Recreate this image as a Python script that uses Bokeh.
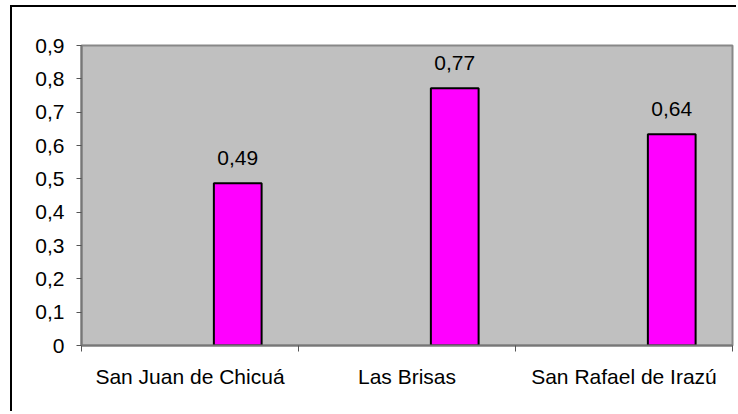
from bokeh.plotting import figure
from bokeh.models import Range1d, FixedTicker, CustomJSTickFormatter, ColumnDataSource
from bokeh.transform import dodge
from bokeh.core.properties import value
from bokeh.embed import file_html
from bokeh.resources import INLINE

categories = ["San Juan de Chicuá", "Las Brisas", "San Rafael de Irazú"]
values = [0.487, 0.772, 0.634]
value_labels = ["0,49", "0,77", "0,64"]
y_ticks = [0, 0.1, 0.2, 0.3, 0.4, 0.5, 0.6, 0.7, 0.8, 0.9]

FONT = "Liberation Sans"
FS = "21px"

xc = [i + 0.5 for i in range(len(categories))]
src = ColumnDataSource(dict(x=xc, v=values, lab=value_labels))

p = figure(width=726, height=406, output_backend="svg", toolbar_location=None,
           x_range=Range1d(0, len(categories)), y_range=Range1d(0, 0.9),
           min_border_left=69, min_border_right=6, min_border_top=38, min_border_bottom=68)
p.styles = {"margin-left": "10px", "margin-top": "5px",
            "border-left": "2px solid black", "border-top": "2px solid black"}

p.background_fill_color = "#C0C0C0"
p.border_fill_color = "white"
p.outline_line_color = "#888888"
p.outline_line_width = 2
p.xgrid.visible = False
p.ygrid.visible = False

p.vbar(x=dodge("x", 0.22, range=p.x_range), top="v", width=0.22, source=src,
       fill_color="#FF00FF", line_color="black", line_width=2)

p.text(x=dodge("x", 0.22, range=p.x_range), y="v", text="lab", source=src,
       y_offset=-25, text_align="center", text_baseline="alphabetic",
       text_font=value(FONT), text_font_size=FS, text_color="black")

# y axis
yax = p.yaxis[0]
yax.ticker = FixedTicker(ticks=y_ticks)
yax.formatter = CustomJSTickFormatter(code="""
const s = tick.toFixed(1);
return s === "0.0" ? "0" : s.replace(".", ",");
""")
yax.axis_line_color = "#777777"
yax.axis_line_width = 2
yax.major_tick_line_color = "#555555"
yax.major_tick_out = 5
yax.major_tick_in = 0
yax.minor_tick_line_color = None
yax.major_label_standoff = 12
yax.major_label_text_font = FONT
yax.major_label_text_font_size = FS
yax.major_label_text_color = "black"

# x axis
xax = p.xaxis[0]
xax.ticker = FixedTicker(ticks=xc, minor_ticks=list(range(len(categories) + 1)))
xax.formatter = CustomJSTickFormatter(args=dict(labels=categories),
                                      code="return labels[Math.floor(tick)];")
xax.axis_line_color = "#777777"
xax.axis_line_width = 2
xax.major_tick_line_color = None
xax.major_tick_out = 0
xax.major_tick_in = 0
xax.minor_tick_line_color = "#555555"
xax.minor_tick_out = 6
xax.minor_tick_in = 0
xax.major_label_standoff = 13
xax.major_label_text_font = FONT
xax.major_label_text_font_size = FS
xax.major_label_text_color = "black"

open("out.html", "w").write(file_html(p, INLINE))
